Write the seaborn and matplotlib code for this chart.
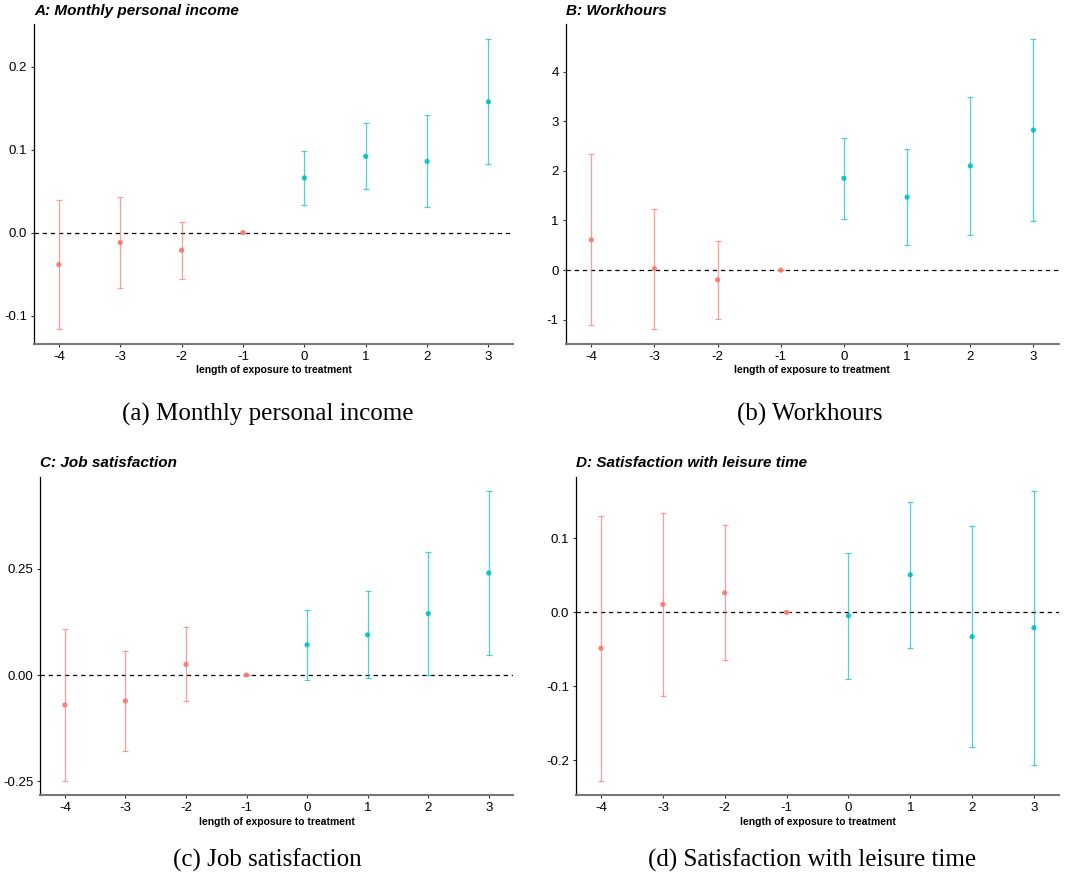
import numpy as np
import pandas as pd
import matplotlib
matplotlib.use("Agg")
import matplotlib.pyplot as plt
import matplotlib.ticker as mticker
import seaborn as sns

# event time (length of exposure to treatment)
periods = [-4, -3, -2, -1, 0, 1, 2, 3]

# A: monthly personal income
inc_est = [-0.0386, -0.012, -0.0213, 0.0, 0.0659, 0.0919, 0.0859, 0.1578]
inc_lo = [-0.1165, -0.0667, -0.0562, 0.0, 0.0333, 0.0522, 0.0305, 0.0823]
inc_hi = [0.0390, 0.0425, 0.0129, 0.0, 0.0988, 0.1317, 0.1418, 0.2337]

# B: workhours
wh_est = [0.61, 0.03, -0.196, 0.0, 1.85, 1.47, 2.10, 2.82]
wh_lo = [-1.10, -1.19, -0.98, 0.0, 1.03, 0.50, 0.705, 0.99]
wh_hi = [2.34, 1.24, 0.585, 0.0, 2.67, 2.445, 3.49, 4.66]

# C: job satisfaction
job_est = [-0.0704, -0.061, 0.0249, 0.0, 0.0711, 0.0946, 0.1446, 0.240]
job_lo = [-0.249, -0.178, -0.062, 0.0, -0.0117, -0.007, 0.001, 0.047]
job_hi = [0.108, 0.0554, 0.1127, 0.0, 0.1526, 0.197, 0.2887, 0.4326]

# D: satisfaction with leisure time
lei_est = [-0.0486, 0.0108, 0.0265, 0.0, -0.0046, 0.0508, -0.033, -0.0208]
lei_lo = [-0.228, -0.1135, -0.065, 0.0, -0.0897, -0.0486, -0.1824, -0.2068]
lei_hi = [0.1305, 0.135, 0.118, 0.0, 0.0797, 0.1495, 0.117, 0.164]

titles = ["A: Monthly personal income", "B: Workhours",
          "C: Job satisfaction", "D: Satisfaction with leisure time"]
captions = ["(a) Monthly personal income", "(b) Workhours",
            "(c) Job satisfaction", "(d) Satisfaction with leisure time"]
y_ticks = [[-0.1, 0.0, 0.1, 0.2], [-1, 0, 1, 2, 3, 4],
           [-0.25, 0.0, 0.25], [-0.2, -0.1, 0.0, 0.1]]
y_fmt = ["%.1f", "%d", "%.2f", "%.1f"]

series = [(inc_est, inc_lo, inc_hi), (wh_est, wh_lo, wh_hi),
          (job_est, job_lo, job_hi), (lei_est, lei_lo, lei_hi)]

sns.set_theme(style="ticks")
plt.rcParams["font.family"] = ["Liberation Sans", "DejaVu Sans"]
plt.rcParams["axes.unicode_minus"] = False
plt.rcParams["text.color"] = "black"
plt.rcParams["axes.labelcolor"] = "black"

palette = {"pre": "#F8766D", "post": "#00BFC4"}

W, H = 1077, 881
fig = plt.figure(figsize=(W / 100, H / 100), dpi=100)

# axes boxes in pixels: left, top, right, bottom
boxes = [(34, 24.3, 513.3, 343.7), (565.7, 24.3, 1059, 343.7),
         (40.3, 476.7, 513.3, 795.3), (576, 476.7, 1059, 795.3)]
cap_pos = [(268, 414), (810, 414), (267, 860), (812, 860)]

for i, (est, lo, hi) in enumerate(series):
    l, t, r, b = boxes[i]
    ax = fig.add_axes([l / W, 1 - b / H, (r - l) / W, (b - t) / H])
    df = pd.DataFrame({"t": periods, "est": est, "lo": lo, "hi": hi})
    df["period"] = np.where(df["t"] < 0, "pre", "post")

    ax.axhline(0, color="black", lw=0.9, ls=(0, (3.5, 3)), zorder=1)
    for name, sub in df.groupby("period"):
        ax.errorbar(sub["t"], sub["est"],
                    yerr=[sub["est"] - sub["lo"], sub["hi"] - sub["est"]],
                    fmt="none", ecolor=palette[name], elinewidth=0.9,
                    capsize=2.3, capthick=0.9, alpha=0.7, zorder=2)
    sns.scatterplot(data=df, x="t", y="est", hue="period", palette=palette,
                    s=14, linewidth=0, alpha=0.9, legend=False, ax=ax,
                    zorder=3)

    ymin, ymax = min(lo), max(hi)
    pad = (ymax - ymin) * 0.05
    ax.set_ylim(ymin - pad, ymax + pad)
    ax.set_xlim(-4.405, 3.405)
    ax.set_xticks(periods)
    ax.set_yticks(y_ticks[i])
    ax.yaxis.set_major_formatter(mticker.FormatStrFormatter(y_fmt[i]))
    ax.set_ylabel("")
    ax.set_xlabel("length of exposure to treatment", fontsize=7.5,
                  fontweight="bold", labelpad=2)
    ax.tick_params(axis="both", labelsize=9.5, length=2.5, width=0.8,
                   color="#333333", pad=2.5, labelcolor="black")
    for side in ["top", "right"]:
        ax.spines[side].set_visible(False)
    ax.spines["left"].set_color("black")
    ax.spines["left"].set_linewidth(0.9)
    ax.spines["bottom"].set_color("#777777")
    ax.spines["bottom"].set_linewidth(1.5)

    ax.annotate(titles[i], xy=(0, 1), xycoords="axes fraction",
                xytext=(0, 6.8), textcoords="offset points",
                ha="left", va="baseline", fontsize=11,
                fontweight="bold", fontstyle="italic")

    cx, cy = cap_pos[i]
    fig.text(cx / W, 1 - cy / H, captions[i], ha="center", va="center",
             fontsize=18, family=["Liberation Serif", "DejaVu Serif"])

fig.savefig("out.png", dpi=100)
